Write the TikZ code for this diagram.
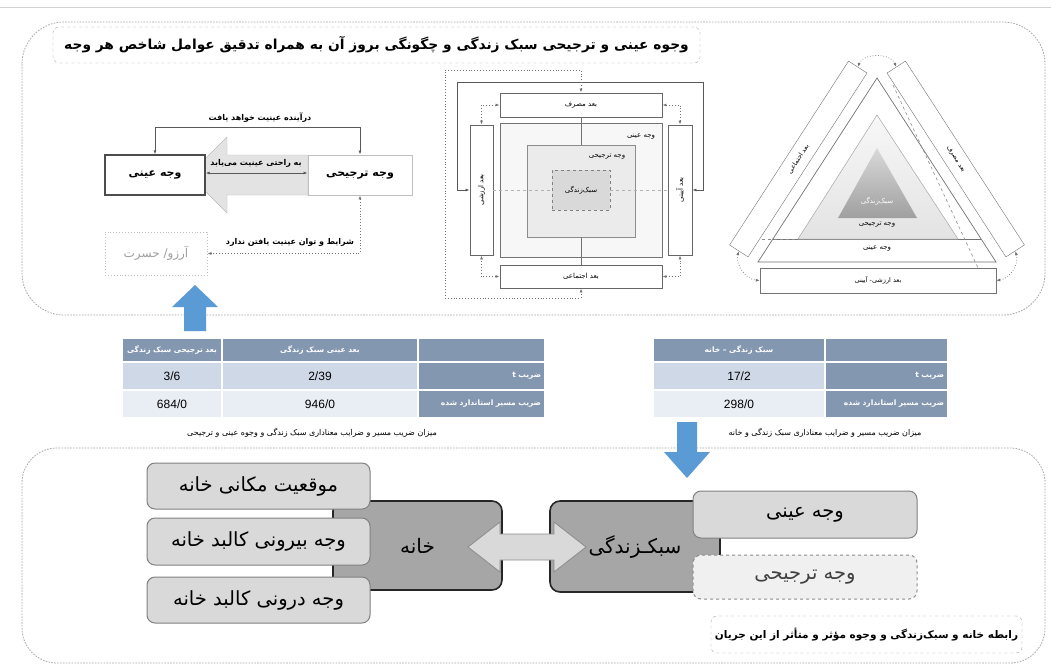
\documentclass[tikz,border=0pt]{standalone}
\usepackage{fontspec}
\usepackage{graphicx}
\setmainfont{Liberation Sans}
\newfontfamily\fa[Script=Arabic]{DejaVu Sans}
\TeXXeTstate=1
\newcommand{\rl}[1]{\beginR #1\endR}
\usetikzlibrary{arrows.meta,calc}
\definecolor{tblDark}{HTML}{8497B0}
\definecolor{tblRowA}{HTML}{CFD8E6}
\definecolor{tblRowB}{HTML}{E9EDF4}
\definecolor{arrowBlue}{HTML}{5B9BD5}
\definecolor{boxGrey}{HTML}{D9D9D9}
\definecolor{darkGrey}{HTML}{A6A6A6}
\tikzset{
  region/.style={draw=gray!70, line width=0.8pt, dash pattern=on 1.6pt off 1.3pt},
  titlebox/.style={draw=gray!70, dashed, rounded corners=6pt, fill=white, inner sep=0pt,
    font=\fa\bfseries\fontsize{13.8}{16}\selectfont},
  lbl/.style={inner sep=1pt, font=\fa\bfseries\fontsize{8}{10}\selectfont},
  sidebox/.style={fill=white, inner sep=0pt, minimum height=40pt, font=\fa\bfseries\fontsize{11}{13}\selectfont},
  wishbox/.style={draw=gray!50, dotted, line width=0.9pt, text=gray!75, inner sep=0pt,
    minimum width=102pt, minimum height=43pt, font=\fa\fontsize{12}{14}\selectfont},
  conn/.style={draw=black!65, line width=0.8pt},
  dconn/.style={draw=black!55, dotted, line width=0.9pt},
  mbox/.style={draw=black!60, line width=0.9pt, fill=white, inner sep=0pt, font=\fa\fontsize{7}{9}\selectfont},
  small/.style={inner sep=0pt, font=\fa\fontsize{7}{9}\selectfont},
  band/.style={draw=black!55, fill=white, inner sep=0pt, font=\fa\fontsize{6.5}{8}\selectfont},
  hcell/.style={draw=white, line width=1.5pt, fill=tblDark, text=white, inner sep=0pt,
    minimum height=24pt, font=\fa\bfseries\fontsize{7.5}{9}\selectfont},
  rhcell/.style={draw=white, line width=1.5pt, fill=tblDark, text=white, inner xsep=4pt, inner ysep=0pt,
    minimum height=28pt, align=right, font=\fa\bfseries\fontsize{7.5}{9}\selectfont},
  vcellA/.style={draw=white, line width=1.5pt, fill=tblRowA, inner sep=0pt, minimum height=28pt,
    font=\fontsize{12}{14}\selectfont},
  vcellB/.style={vcellA, fill=tblRowB},
  caption/.style={inner sep=0pt, font=\fa\fontsize{8}{10}\selectfont},
  bigbox/.style={fill=darkGrey, draw=black!85, line width=1.6pt, rounded corners=10pt, inner sep=0pt,
    font=\fa\fontsize{20}{24}\selectfont},
  facet/.style={fill=boxGrey, draw=black!50, line width=1pt, rounded corners=8pt, inner sep=0pt,
    font=\fa\fontsize{19.5}{23}\selectfont},
  capbox/.style={draw=gray!70, dashed, rounded corners=6pt, fill=white, inner sep=0pt,
    font=\fa\bfseries\fontsize{10.5}{13}\selectfont},
  >={Latex[length=4pt,width=3pt]}
}
\begin{document}
\begin{tikzpicture}[x=1pt,y=-1pt]
\useasboundingbox (0,0) rectangle (1051,665);
\fill[white] (0,0) rectangle (1051,665);
\draw[gray!35] (0,7) -- (1051,7);

% regions
\draw[region, rounded corners=42pt] (22,22) rectangle (1045,315);
\draw[region, rounded corners=35pt] (22,448) rectangle (1045,663);

% title
\node[titlebox, minimum width=647pt, minimum height=36pt] (title) at (376.5,45)
  {\rl{وجوه عینی و ترجیحی سبک زندگی و چگونگی بروز آن به همراه تدقیق عوامل شاخص هر وجه}};

% ---------- left diagram ----------
\filldraw[fill=gray!22, draw=gray!55] (308,155) -- (227,155) -- (227,137) -- (189,175)
  -- (227,213) -- (227,195) -- (308,195) -- cycle;
\node[sidebox, draw=black!70, line width=1.3pt, minimum width=100pt] (lb) at (155,175) {\rl{وجه عینی}};
\node[sidebox, draw=gray!50, line width=0.9pt, minimum width=104pt] (rb) at (360,175) {\rl{وجه ترجیحی}};
\draw[conn, <->] ([yshift=2pt]lb.east) -- ([yshift=2pt]rb.west);
\node[lbl] (easy) at (256,163) {\rl{به راحتی عینیت می^^^^200cیابد}};
\draw[conn, <->] (lb.north) -- ++(0,-27) -| (rb.north);
\node[lbl] (future) at (260,118) {\rl{درآینده عینیت خواهد یافت}};
\node[wishbox] (wish) at (156,253.5) {\rl{آرزو/ حسرت}};
\draw[dconn, <->] (rb.south) |- (wish.east);
\node[lbl] (cannot) at (290,242) {\rl{شرایط و توان عینیت یافتن ندارد}};

% blue up arrow
\fill[arrowBlue] (195,285) -- (172,307) -- (184,307) -- (184,331) -- (206,331) -- (206,307) -- (218,307) -- cycle;

% ---------- middle diagram ----------
\node[draw=black!55, fill=gray!6, line width=0.9pt, minimum width=162pt, minimum height=134pt] (ob) at (581,190) {};
\node[draw=black!45, fill=gray!16, line width=0.7pt, minimum width=108pt, minimum height=92pt] (pb) at (581,191) {};
\node[draw=black!50, dashed, fill=gray!30, minimum width=58pt, minimum height=40pt, small] (cb) at (581,190) {\rl{سبک^^^^200cزندگی}};
\node[small] (oblbl) at (641,137) {\rl{وجه عینی}};
\node[small] (pblbl) at (607,157) {\rl{وجه ترجیحی}};
\node[mbox, minimum width=162pt, minimum height=24pt] (tb) at (581,105) {\rl{بعد مصرف}};
\node[mbox, minimum width=162pt, minimum height=23pt] (bb) at (581,276.5) {\rl{بعد اجتماعی}};
\node[mbox, minimum width=23pt, minimum height=130pt] (lv) at (481.5,190) {\rotatebox{90}{\rl{بعد ارزشی}}};
\node[mbox, minimum width=24pt, minimum height=130pt] (rv) at (680,190) {\rotatebox{90}{\rl{بعد آیینی}}};
\draw[black!55, line width=0.6pt] (tb.south) -- (pb.north);
\draw[black!55, line width=0.6pt] (pb.south) -- (bb.north);
\draw[gray!60, dashed, line width=0.6pt] (lv.east) -- (cb.west);
\draw[gray!60, dashed, line width=0.6pt] (cb.east) -- (rv.west);
\coordinate (sl) at (457,82);
\coordinate (sr) at (703,82);
\draw[conn, line width=0.7pt, <->] (lv.west) -| (sl) -- (sr) |- (rv.east);
\coordinate (dtl) at (445,70);
\coordinate (dbl) at (445,298);
\draw[dconn, <->] (tb.north) |- (dtl) -- (dbl) -| (bb.south);
\draw[dconn, <->] (tb.west) -| (lv.north);
\draw[dconn, <->] (tb.east) -| (rv.north);
\draw[dconn, <->] (bb.west) -| (lv.south);
\draw[dconn, <->] (bb.east) -| (rv.south);

% ---------- triangle diagram ----------
\filldraw[fill=white, draw=black!55, line width=0.7pt] (877,78) -- (758,262) -- (996,262) -- cycle;
\draw[black!55, line width=0.7pt] (773,239) -- (981,239);
\draw[black!45, dashed, line width=0.6pt] (762,239) -- (798,239);
\shade[top color=gray!6, bottom color=gray!22] (877,115) -- (798,239) -- (958,239) -- cycle;
\draw[black!35, line width=0.5pt] (877,115) -- (798,239) -- (958,239) -- cycle;
\shade[top color=gray!30, bottom color=gray!75] (877,148) -- (838,218) -- (917,218) -- cycle;
\draw[black!45, dashed, line width=0.6pt] (893,85) -- (979,270);
\node[small, text=white] (tcore) at (877,201) {\rl{سبک^^^^200cزندگی}};
\node[small] (tpref) at (877,225) {\rl{وجه ترجیحی}};
\node[small] (tobj) at (877,249) {\rl{وجه عینی}};
\node[band, rotate=57.1, minimum width=219pt, minimum height=22pt] (lband) at (798.3,159) {\rl{بعد اجتماعی}};
\node[band, rotate=-57.1, minimum width=219pt, minimum height=22pt] (rband) at (955.7,159) {\rl{بعد مصرف}};
\node[band, minimum width=236pt, minimum height=25pt] (bband) at (878,280.5) {\rl{بعد ارزشی- آیینی}};
\draw[dconn, line width=0.7pt, <->] (lband.east) to[bend left=70] (rband.west);
\draw[dconn, line width=0.7pt, <->] (lband.west) to[bend right=50] (bband.west);
\draw[dconn, line width=0.7pt, <->] (rband.east) to[bend left=50] (bband.east);

% ---------- left table ----------
\node[hcell, minimum width=100pt] (L00) at (172,350) {\rl{بعد ترجیحی سبک زندگی}};
\node[hcell, minimum width=196pt] (L01) at (320,350) {\rl{بعد عینی سبک زندگی}};
\node[hcell, minimum width=127pt] (L02) at (481.5,350) {};
\node[vcellA, minimum width=100pt] (L10) at (172,376) {3/6};
\node[vcellA, minimum width=196pt] (L11) at (320,376) {2/39};
\node[rhcell, text width=119pt] (L12) at (481.5,376) {\rl{ضریب t}};
\node[vcellB, minimum width=100pt] (L20) at (172,404) {684/0};
\node[vcellB, minimum width=196pt] (L21) at (320,404) {946/0};
\node[rhcell, text width=119pt] (L22) at (481.5,404) {\rl{ضریب مسیر استاندارد شده}};
\node[caption] (capL) at (312,433) {\rl{میزان ضریب مسیر و ضرایب معناداری سبک زندگی و وجوه عینی و ترجیحی}};

% ---------- right table ----------
\node[hcell, minimum width=172pt] (R00) at (739,350) {\rl{سبک زندگی – خانه}};
\node[hcell, minimum width=123pt] (R01) at (886.5,350) {};
\node[vcellA, minimum width=172pt] (R10) at (739,376) {17/2};
\node[rhcell, text width=115pt] (R11) at (886.5,376) {\rl{ضریب t}};
\node[vcellB, minimum width=172pt] (R20) at (739,404) {298/0};
\node[rhcell, text width=115pt] (R21) at (886.5,404) {\rl{ضریب مسیر استاندارد شده}};
\node[caption] (capR) at (825,433) {\rl{میزان ضریب مسیر و ضرایب معناداری سبک زندگی و خانه}};

% blue down arrow
\fill[arrowBlue] (677,422) -- (697,422) -- (697,452) -- (710,452) -- (687,478) -- (664,452) -- (677,452) -- cycle;

% ---------- bottom diagram ----------
\node[bigbox, minimum width=169pt, minimum height=89pt] (house) at (417.5,545.5) {\rl{خانه}};
\node[bigbox, minimum width=170pt, minimum height=91pt] (life) at (635,546.5) {\rl{سبکـزندگی}};
\node[facet, minimum width=223pt, minimum height=46pt] (m1) at (258.5,486) {\rl{موقعیت مکانی خانه}};
\node[facet, minimum width=223pt, minimum height=47pt] (m2) at (258.5,541.5) {\rl{وجه بیرونی کالبد خانه}};
\node[facet, minimum width=223pt, minimum height=46pt] (m3) at (258.5,600) {\rl{وجه درونی کالبد خانه}};
\node[facet, minimum width=224pt, minimum height=47pt] (v1) at (805,514.5) {\rl{وجه عینی}};
\node[facet, dashed, draw=black!45, fill=gray!12, text=black!75, minimum width=224pt, minimum height=44pt] (v2) at (805,577) {\rl{وجه ترجیحی}};
\filldraw[fill=boxGrey, draw=black!45, line width=0.8pt] (468,547) -- (500,522) -- (500,534) -- (554,534)
  -- (554,522) -- (586,547) -- (554,572) -- (554,560) -- (500,560) -- (500,572) -- cycle;
\node[capbox, minimum width=311pt, minimum height=37pt] (relcap) at (866.5,634.5)
  {\rl{رابطه خانه و سبک^^^^200cزندگی و وجوه مؤثر و متأثر از این جریان}};
\end{tikzpicture}
\end{document}
